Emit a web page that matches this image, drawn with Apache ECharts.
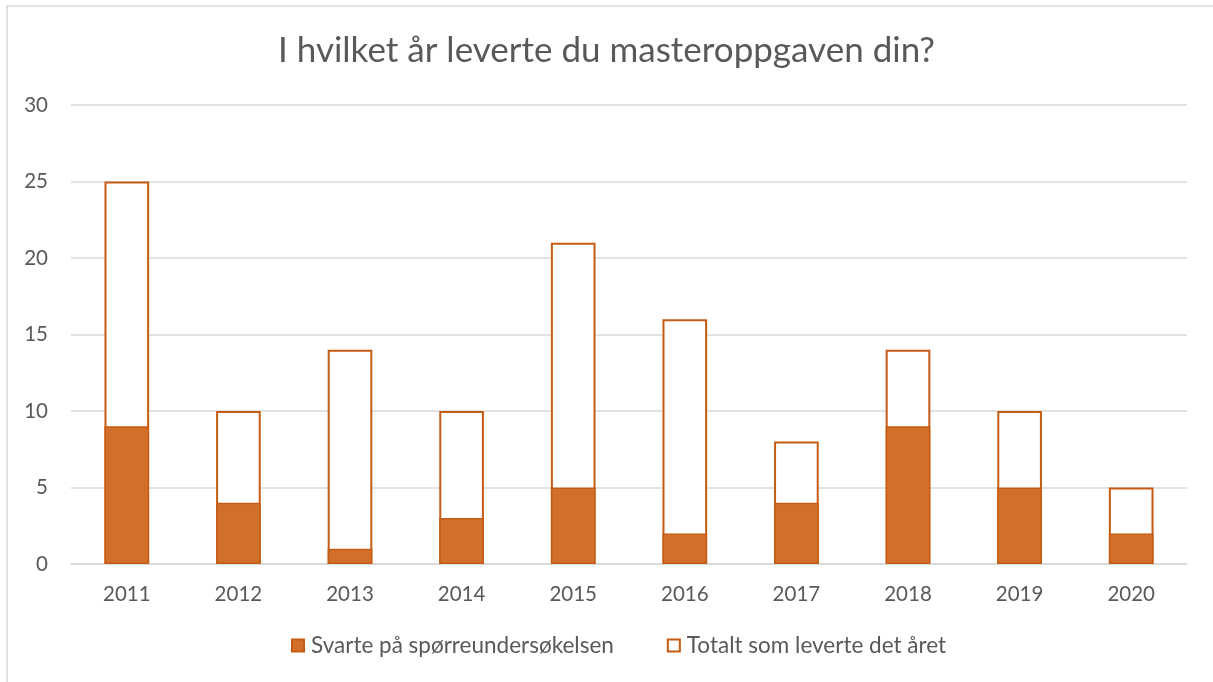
<!DOCTYPE html>
<html>
<head>
<meta charset="utf-8">
<script src="https://cdn.jsdelivr.net/npm/echarts@6/dist/echarts.min.js"></script>
<style>
html, body { margin: 0; padding: 0; background: #fff; }
#chart { width: 1213px; height: 682px; }
</style>
</head>
<body>
<div id="chart"></div>
<script>
// data
const years = ['2011', '2012', '2013', '2014', '2015', '2016', '2017', '2018', '2019', '2020'];
const answered = [9, 4, 1, 3, 5, 2, 4, 9, 5, 2];
const delivered = [25, 10, 14, 10, 21, 16, 8, 14, 10, 5];

const fillColor = '#D2702B';
const edgeColor = '#C65B12';
const textColor = '#595959';
const font = 'Lato, "Open Sans", sans-serif';

let chart = echarts.init(document.getElementById('chart'));
chart.setOption({
    animation: false,
    graphic: [{
        type: 'rect',
        shape: { x: 7, y: 6, width: 1400, height: 900 },
        style: { fill: 'none', stroke: '#D9D9D9', lineWidth: 1.5 },
        silent: true
    }],
    title: {
        text: 'I hvilket år leverte du masteroppgaven din?',
        left: 'center',
        top: 28,
        textStyle: { fontFamily: font, fontSize: 35, fontWeight: 'normal', color: textColor }
    },
    legend: {
        bottom: 20,
        left: 286,
        itemWidth: 12,
        itemHeight: 12,
        itemGap: 53,
        data: [
            { name: 'Svarte på spørreundersøkelsen', icon: 'rect' },
            { name: 'Totalt som leverte det året', icon: 'rect' }
        ],
        textStyle: { fontFamily: font, fontSize: 22.5, color: textColor, padding: [0, 0, 0, 2] }
    },
    grid: { left: 71, right: 26, top: 105, bottom: 118 },
    xAxis: {
        type: 'category',
        data: years,
        axisTick: { show: false },
        axisLine: { lineStyle: { color: '#D9D9D9', width: 1.5 } },
        axisLabel: { fontFamily: font, fontSize: 20.5, color: textColor, margin: 20 }
    },
    yAxis: {
        type: 'value',
        min: 0,
        max: 30,
        interval: 5,
        axisLabel: { fontFamily: font, fontSize: 20.5, color: textColor, margin: 23 },
        splitLine: { lineStyle: { color: '#D9D9D9', width: 1.5 } }
    },
    series: [
        {
            name: 'Totalt som leverte det året',
            type: 'bar',
            data: delivered,
            barWidth: '40%',
            itemStyle: { color: '#ffffff', borderColor: edgeColor, borderWidth: 2 }
        },
        {
            name: 'Svarte på spørreundersøkelsen',
            type: 'bar',
            data: answered,
            barWidth: '40%',
            barGap: '-100%',
            itemStyle: { color: fillColor, borderColor: edgeColor, borderWidth: 1.5 }
        }
    ]
});
</script>
</body>
</html>
